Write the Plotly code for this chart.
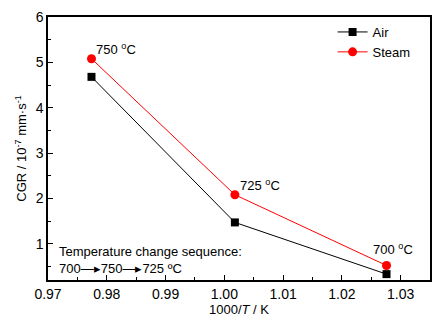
import plotly.graph_objects as go

inv_T = [0.9774, 1.0018, 1.0276]
air = [4.68, 1.47, 0.33]
steam = [5.08, 2.08, 0.52]
temp_labels = ["750 <sup>o</sup>C", "725 <sup>o</sup>C", "700 <sup>o</sup>C"]

FONT = "Liberation Sans, Arial, sans-serif"

fig = go.Figure()
fig.add_trace(go.Scatter(x=inv_T, y=air, mode="lines+markers", name="Air",
                         line=dict(color="black", width=1),
                         marker=dict(symbol="square", size=8, color="black")))
fig.add_trace(go.Scatter(x=inv_T, y=steam, mode="lines+markers", name="Steam",
                         line=dict(color="#ff0000", width=1),
                         marker=dict(symbol="circle", size=9, color="#ff0000")))

shifts = [(3, 0, "left"), (3, 0, "left"), (6, 6, "center")]
for x, y, t, (xs, ys, xa) in zip(inv_T, steam, temp_labels, shifts):
    fig.add_annotation(x=x, y=y, text=t, showarrow=False, xanchor=xa, yanchor="bottom",
                       xshift=xs, yshift=ys, font=dict(size=13, color="black", family=FONT))

fig.add_annotation(x=0.9715, y=0.82, xref="x", yref="y", text="Temperature change sequence:",
                   showarrow=False, xanchor="left", yanchor="middle",
                   font=dict(size=13, color="black", family=FONT))
fig.add_annotation(x=0.9715, y=0.45, xref="x", yref="y", text="700\u2014\u25b8750\u2014\u25b8725 \u00baC",
                   showarrow=False, xanchor="left", yanchor="middle",
                   font=dict(size=13, color="black", family=FONT))

axis_common = dict(showline=True, linecolor="black", linewidth=1.5, mirror=True,
                   ticks="inside", ticklen=5, tickwidth=1, tickcolor="black",
                   showgrid=False, zeroline=False,
                   tickfont=dict(size=14, color="black", family=FONT))

fig.update_xaxes(range=[0.97, 1.035], tick0=0.97, dtick=0.01, tickformat=".2f",
                 minor=dict(ticks="inside", dtick=0.005, ticklen=3, tickcolor="black", showgrid=False),
                 title=dict(text="1000/<i>T</i> / K", font=dict(size=13, color="black", family=FONT), standoff=3),
                 **axis_common)
fig.update_yaxes(range=[0.2, 6.0], tick0=0, dtick=1,
                 minor=dict(ticks="inside", dtick=0.5, ticklen=3, tickcolor="black", showgrid=False),
                 title=dict(text="CGR / 10<sup>-7</sup> mm\u00b7s<sup>-1</sup>", font=dict(size=13, color="black", family=FONT), standoff=6),
                 **axis_common)

fig.update_layout(
    width=442, height=323,
    margin=dict(l=48, r=12, t=9, b=42),
    plot_bgcolor="white", paper_bgcolor="white",
    legend=dict(x=0.745, y=1.0, xanchor="left", yanchor="top",
                bgcolor="rgba(0,0,0,0)", font=dict(size=13, color="black", family=FONT),
                itemwidth=30, tracegroupgap=0),
    showlegend=True,
)

fig.write_html("out.html")
